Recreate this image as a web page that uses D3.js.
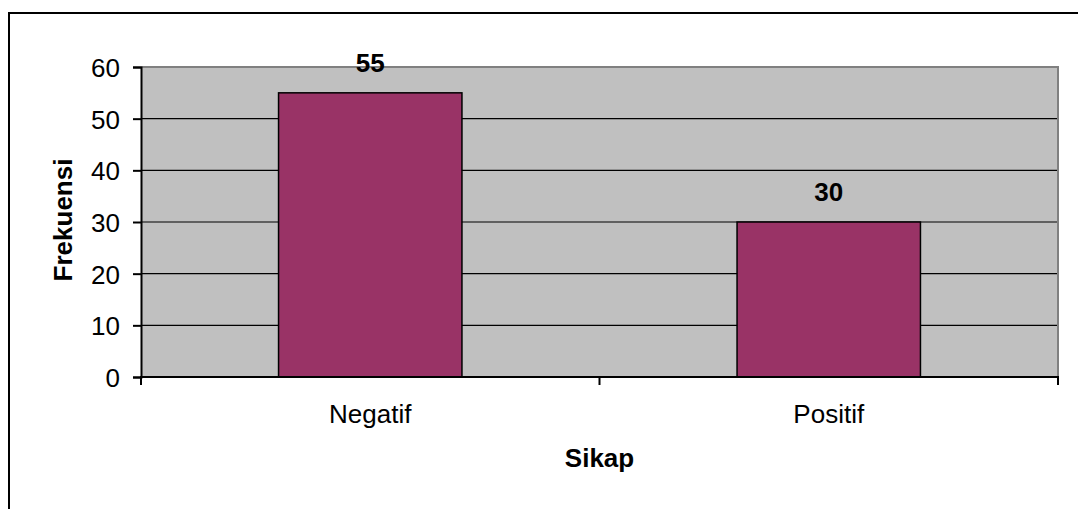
<!DOCTYPE html>
<html>
<head>
<meta charset="utf-8">
<script src="https://cdn.jsdelivr.net/npm/d3@7"></script>
<style>
  html, body { margin: 0; padding: 0; background: #fff; }
  svg { display: block; }
  text { font-family: "Liberation Sans", Arial, sans-serif; fill: #000; }
</style>
</head>
<body>
<svg id="chart" width="1078" height="509"></svg>
<script>
// Frequency of attitude (Sikap) categories
const categories = ["Negatif", "Positif"];
const frequencies = [55, 30];
const yTicks = [0, 10, 20, 30, 40, 50, 60];
const xTitle = "Sikap";
const yTitle = "Frekuensi";

const W = 1078, H = 509;
const plot = { left: 141, right: 1058, top: 67, bottom: 377 };
const FS = "26px";

const svg = d3.select("#chart");

// outer chart frame (continues past the right and bottom edges)
svg.append("rect")
  .attr("x", 9).attr("y", 13)
  .attr("width", W + 20).attr("height", H + 20)
  .attr("fill", "#fff").attr("stroke", "#000").attr("stroke-width", 2);

const x = d3.scaleBand()
  .domain(categories)
  .range([plot.left, plot.right])
  .padding(0);

const y = d3.scaleLinear()
  .domain([0, 60])
  .range([plot.bottom, plot.top]);

// plot background
svg.append("rect")
  .attr("x", plot.left).attr("y", plot.top)
  .attr("width", plot.right - plot.left).attr("height", plot.bottom - plot.top)
  .attr("fill", "#c0c0c0");

// horizontal gridlines
svg.append("g")
  .selectAll("line")
  .data(yTicks.filter(d => d > 0 && d < 60))
  .join("line")
  .attr("x1", plot.left).attr("x2", plot.right)
  .attr("y1", d => y(d)).attr("y2", d => y(d))
  .attr("stroke", "#000").attr("stroke-width", 1.2);

// top and right plot borders
svg.append("path")
  .attr("d", `M${plot.left},${y(60)}H${plot.right}V${plot.bottom}`)
  .attr("fill", "none").attr("stroke", "#808080").attr("stroke-width", 2);

// bars
const barW = x.bandwidth() * 0.4;
svg.append("g")
  .selectAll("rect")
  .data(categories.map((c, i) => ({ c, v: frequencies[i] })))
  .join("rect")
  .attr("x", d => x(d.c) + (x.bandwidth() - barW) / 2)
  .attr("y", d => y(d.v))
  .attr("width", barW)
  .attr("height", d => y(0) - y(d.v))
  .attr("fill", "#993366")
  .attr("stroke", "#000").attr("stroke-width", 1.5);

// value labels
svg.append("g")
  .selectAll("text")
  .data(categories.map((c, i) => ({ c, v: frequencies[i] })))
  .join("text")
  .attr("x", d => x(d.c) + x.bandwidth() / 2)
  .attr("y", d => y(d.v) - 21)
  .attr("text-anchor", "middle")
  .style("font-size", FS).style("font-weight", "bold")
  .text(d => d.v);

// y axis
const yAxis = svg.append("g")
  .attr("transform", `translate(${plot.left},0)`)
  .call(d3.axisLeft(y).tickValues(yTicks).tickSize(8).tickPadding(13));
yAxis.select(".domain").attr("stroke", "#000").attr("stroke-width", 2);
yAxis.selectAll(".tick line").attr("stroke", "#000").attr("stroke-width", 2);
yAxis.selectAll(".tick text")
  .attr("dy", "0.36em")
  .style("font-size", FS).style("font-family", "'Liberation Sans', Arial, sans-serif");

// x axis: ticks at band boundaries, labels at band centres
const xAxisG = svg.append("g")
  .attr("transform", `translate(0,${plot.bottom})`);
xAxisG.append("line")
  .attr("x1", plot.left - 1).attr("x2", plot.right + 1)
  .attr("stroke", "#000").attr("stroke-width", 2);
const boundaries = categories.map(c => x(c)).concat([x(categories[categories.length - 1]) + x.bandwidth()]);
xAxisG.selectAll("line.tick")
  .data(boundaries)
  .join("line")
  .attr("class", "tick")
  .attr("x1", d => d).attr("x2", d => d)
  .attr("y1", 0).attr("y2", 8)
  .attr("stroke", "#000").attr("stroke-width", 2);
xAxisG.selectAll("text")
  .data(categories)
  .join("text")
  .attr("x", d => x(d) + x.bandwidth() / 2)
  .attr("y", 46)
  .attr("text-anchor", "middle")
  .style("font-size", FS)
  .text(d => d);

// axis titles
svg.append("text")
  .attr("x", (plot.left + plot.right) / 2)
  .attr("y", 467)
  .attr("text-anchor", "middle")
  .style("font-size", FS).style("font-weight", "bold")
  .text(xTitle);

svg.append("text")
  .attr("transform", `translate(72,${(plot.top + plot.bottom) / 2 - 2}) rotate(-90)`)
  .attr("text-anchor", "middle")
  .style("font-size", FS).style("font-weight", "bold")
  .text(yTitle);
</script>
</body>
</html>
